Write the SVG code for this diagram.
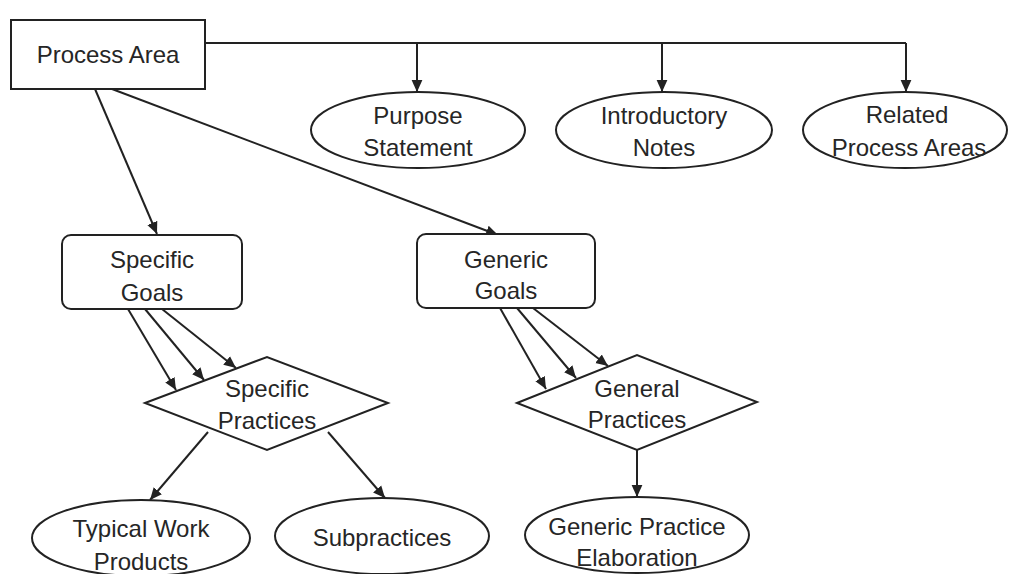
<svg xmlns="http://www.w3.org/2000/svg" width="1009" height="574" viewBox="0 0 1009 574">
  <style>
    .shape { fill: #ffffff; stroke: #222222; stroke-width: 2; }
    .edge { fill: none; stroke: #222222; stroke-width: 2; }
    .label { font-family: "Liberation Sans", Arial, sans-serif; font-size: 24px; fill: #262626; text-anchor: middle; }
  </style>
  <defs>
    <marker id="arrow" viewBox="0 0 10 10" refX="10" refY="5" markerWidth="6" markerHeight="6" orient="auto" markerUnits="strokeWidth">
      <path d="M0,0.5 L10,5 L0,9.5 Z" fill="#222222"/>
    </marker>
  </defs>
  <rect width="1009" height="574" fill="#ffffff"/>

  <!-- connectors -->
  <g id="connectors">
    <polyline class="edge" points="205,43 906,43"/>
    <line class="edge" x1="417" y1="43" x2="417" y2="92" marker-end="url(#arrow)"/>
    <line class="edge" x1="662" y1="43" x2="662" y2="92" marker-end="url(#arrow)"/>
    <line class="edge" x1="906" y1="43" x2="906" y2="92" marker-end="url(#arrow)"/>
    <line class="edge" x1="95" y1="89" x2="157" y2="234" marker-end="url(#arrow)"/>
    <line class="edge" x1="112" y1="89" x2="498" y2="235" marker-end="url(#arrow)"/>
    <line class="edge" x1="128" y1="309" x2="176" y2="390" marker-end="url(#arrow)"/>
    <line class="edge" x1="145" y1="309" x2="204" y2="380" marker-end="url(#arrow)"/>
    <line class="edge" x1="162" y1="309" x2="236" y2="368" marker-end="url(#arrow)"/>
    <line class="edge" x1="500" y1="308" x2="546" y2="389" marker-end="url(#arrow)"/>
    <line class="edge" x1="517" y1="308" x2="576" y2="378" marker-end="url(#arrow)"/>
    <line class="edge" x1="533" y1="308" x2="608" y2="366" marker-end="url(#arrow)"/>
    <line class="edge" x1="208" y1="432" x2="150" y2="500" marker-end="url(#arrow)"/>
    <line class="edge" x1="328" y1="432" x2="385" y2="498" marker-end="url(#arrow)"/>
    <line class="edge" x1="637" y1="450" x2="637" y2="497" marker-end="url(#arrow)"/>
  </g>

  <g id="process-area">
    <rect class="shape" x="11" y="20" width="194" height="69"/>
    <text class="label" x="108" y="63">Process Area</text>
  </g>

  <g id="purpose-statement">
    <ellipse class="shape" cx="418" cy="130" rx="107" ry="38"/>
    <text class="label" x="418" y="124">Purpose</text>
    <text class="label" x="418" y="156">Statement</text>
  </g>

  <g id="introductory-notes">
    <ellipse class="shape" cx="664" cy="130" rx="108" ry="38"/>
    <text class="label" x="664" y="124">Introductory</text>
    <text class="label" x="664" y="156">Notes</text>
  </g>

  <g id="related-process-areas">
    <ellipse class="shape" cx="905" cy="130" rx="102" ry="38"/>
    <text class="label" x="907" y="123">Related</text>
    <text class="label" x="909" y="156">Process Areas</text>
  </g>

  <g id="specific-goals">
    <rect class="shape" x="62" y="235" width="180" height="74" rx="9" ry="9"/>
    <text class="label" x="152" y="268">Specific</text>
    <text class="label" x="152" y="301">Goals</text>
  </g>

  <g id="generic-goals">
    <rect class="shape" x="417" y="234" width="178" height="74" rx="9" ry="9"/>
    <text class="label" x="506" y="268">Generic</text>
    <text class="label" x="506" y="299">Goals</text>
  </g>

  <g id="specific-practices">
    <polygon class="shape" points="145,403 267,357 388,403 267,450"/>
    <text class="label" x="267" y="397">Specific</text>
    <text class="label" x="267" y="429">Practices</text>
  </g>

  <g id="general-practices">
    <polygon class="shape" points="517,403 637,355 757,402 637,450"/>
    <text class="label" x="637" y="397">General</text>
    <text class="label" x="637" y="428">Practices</text>
  </g>

  <g id="typical-work-products">
    <ellipse class="shape" cx="141" cy="538" rx="109" ry="38"/>
    <text class="label" x="141" y="537">Typical Work</text>
    <text class="label" x="141" y="570">Products</text>
  </g>

  <g id="subpractices">
    <ellipse class="shape" cx="382" cy="536" rx="107" ry="38"/>
    <text class="label" x="382" y="546">Subpractices</text>
  </g>

  <g id="generic-practice-elaboration">
    <ellipse class="shape" cx="637" cy="535" rx="112" ry="38"/>
    <text class="label" x="637" y="535">Generic Practice</text>
    <text class="label" x="637" y="566">Elaboration</text>
  </g>
</svg>
